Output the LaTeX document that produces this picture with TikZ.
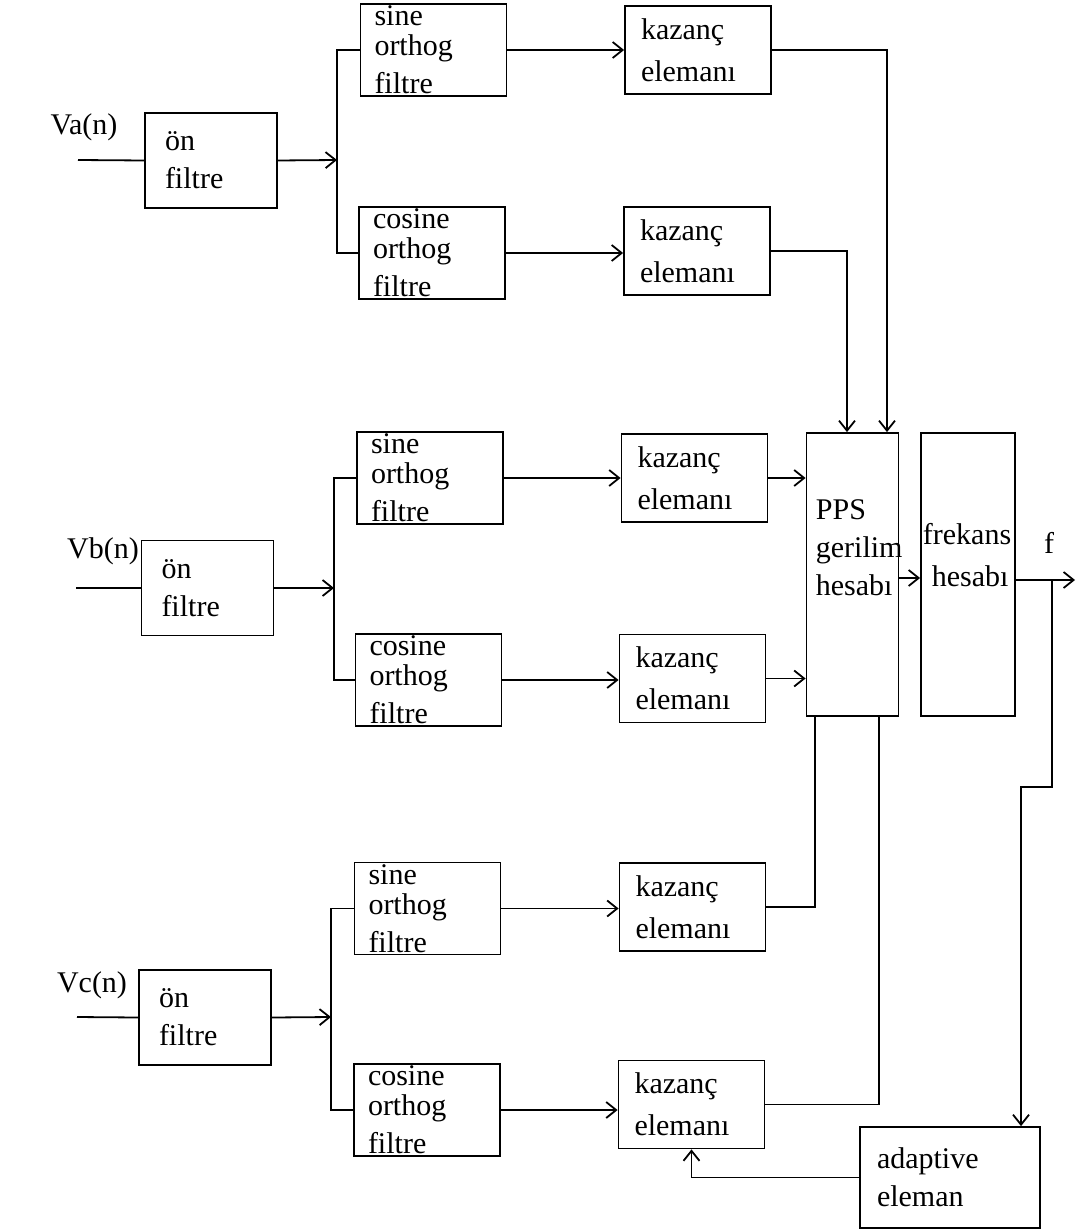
\documentclass[tikz,border=0pt]{standalone}
\usepackage{fontspec}
\setmainfont{Liberation Serif}
\usetikzlibrary{arrows.meta}
\begin{document}
\begin{tikzpicture}[x=0.5pt, y=-0.5pt, line width=0.9pt, >={Straight Barb[length=5pt,width=8pt]},
        every node/.style={font=\fontsize{15}{19}\selectfont},
        onkutu/.style={draw, align=left, minimum height=47.5pt, inner xsep=10pt, inner ysep=1pt, text width=46pt},
        orthkutu/.style={draw, align=left, minimum height=45pt, inner xsep=7pt, inner ysep=1pt, text width=59pt},
        kazkutu/.style={draw, align=left, minimum height=44pt, inner xsep=8pt, inner ysep=1pt, text width=57pt},
        uzunkutu/.style={draw, minimum width=46pt, minimum height=141.5pt},
        yazi/.style={inner sep=0pt, align=left}]
        \useasboundingbox (0,0) rectangle (1076,1230);
        \node (va) at (84,127) {Va(n)};
        \coordinate (vagir) at (78,160);
        \node[onkutu] (onA) at (211,160.5) {ön\\filtre};
        \coordinate (dalA) at (337,160);
        \node[orthkutu] (sinA) at (433.5,50) {sine\\[-4pt]orthog\\filtre};
        \node[orthkutu] (cosA) at (432,253) {cosine\\[-4pt]orthog\\filtre};
        \node[kazkutu] (kazA1) at (698,50) {kazanç\\[2pt]elemanı};
        \node[kazkutu] (kazA2) at (697,251) {kazanç\\[2pt]elemanı};
        \node (vb) at (103,551) {Vb(n)};
        \coordinate (vbgir) at (76,588);
        \node[onkutu] (onB) at (207.5,588) {ön\\filtre};
        \coordinate (dalB) at (334,588);
        \node[orthkutu] (sinB) at (430,478) {sine\\[-4pt]orthog\\filtre};
        \node[orthkutu] (cosB) at (428.5,680) {cosine\\[-4pt]orthog\\filtre};
        \node[kazkutu] (kazB1) at (694.5,478) {kazanç\\[2pt]elemanı};
        \node[kazkutu] (kazB2) at (692.5,678.5) {kazanç\\[2pt]elemanı};
        \node (vc) at (92,985) {Vc(n)};
        \coordinate (vcgir) at (77,1017);
        \node[onkutu] (onC) at (205,1017.5) {ön\\filtre};
        \coordinate (dalC) at (331,1017);
        \node[orthkutu] (sinC) at (427.5,908.5) {sine\\[-4pt]orthog\\filtre};
        \node[orthkutu] (cosC) at (427,1110) {cosine\\[-4pt]orthog\\filtre};
        \node[kazkutu] (kazC1) at (692.5,907) {kazanç\\[2pt]elemanı};
        \node[kazkutu] (kazC2) at (691.5,1104.5) {kazanç\\[2pt]elemanı};
        \node[uzunkutu] (pps) at (852.5,574.5) {};
        \node[yazi, anchor=north west] (ppsyazi) at (815,499) {PPS\\gerilim\\hesabı};
        \node[uzunkutu, minimum width=47pt] (frek) at (968,574.5) {};
        \node[yazi, anchor=north west] (frekyazi) at (922,522) {frekans\\[2pt]\hspace{4.5pt}hesabı};
        \node (f) at (1049,543) {f};
        \coordinate (fdal) at (1052,580);
        \coordinate (cikis) at (1075,580);
        \coordinate (kirik) at (1021,787);
        \node[kazkutu, minimum height=50.5pt, inner xsep=8.5pt, text width=73pt] (adap) at (950,1177.5) {adaptive\\eleman};
        \draw (vagir) -- (onA.west);
        \draw[->] (onA.east) -- (dalA);
        \draw (sinA.west) -| (dalA) |- (cosA.west);
        \draw[->] (sinA.east) -- (kazA1.west |- sinA.east);
        \draw[->] (cosA.east) -- (kazA2.west |- cosA.east);
        \draw (vbgir) -- (onB.west);
        \draw[->] (onB.east) -- (dalB);
        \draw (sinB.west) -| (dalB) |- (cosB.west);
        \draw[->] (sinB.east) -- (kazB1.west |- sinB.east);
        \draw[->] (cosB.east) -- (kazB2.west |- cosB.east);
        \draw (vcgir) -- (onC.west);
        \draw[->] (onC.east) -- (dalC);
        \draw (sinC.west) -| (dalC) |- (cosC.west);
        \draw[->] (sinC.east) -- (kazC1.west |- sinC.east);
        \draw[->] (cosC.east) -- (kazC2.west |- cosC.east);
        \draw[->] (kazA1.east) -| ([xshift=17.25pt]pps.north);
        \draw[->] (kazA2.east) -| ([xshift=-2.75pt]pps.north);
        \draw[->] (kazB1.east) -- (pps.west |- kazB1.east);
        \draw[->] (kazB2.east) -- (pps.west |- kazB2.east);
        \draw (kazC1.east) -| ([xshift=-18.75pt]pps.south);
        \draw (kazC2.east) -| ([xshift=13.25pt]pps.south);
        \draw[->] ([yshift=-1.75pt]pps.east) -- ([yshift=-1.75pt]frek.west);
        \draw[->] ([yshift=-2.75pt]frek.east) -- (cikis);
        \draw[->] (fdal) |- (kirik) -- (kirik |- adap.north);
        \draw[->] (adap.west) -| (kazC2.south);
    \end{tikzpicture}
\end{document}
